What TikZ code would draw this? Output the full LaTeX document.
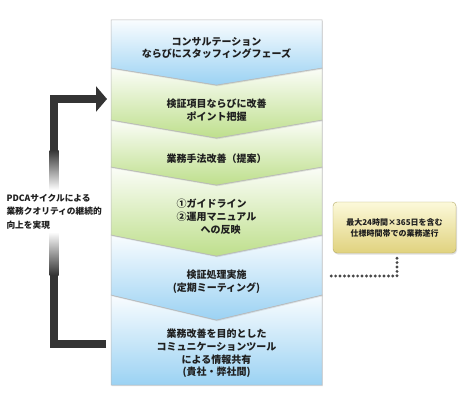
\documentclass[tikz,border=0pt]{standalone}
\usepackage{fontspec}
\setmainfont{Noto Sans CJK JP}
\usepackage{tikz}
\usetikzlibrary{arrows.meta, positioning, shadows}
\definecolor{stageblue}{RGB}{155,210,243}
\definecolor{stagegreen}{RGB}{190,223,140}
\definecolor{bracketgray}{RGB}{52,52,52}
\definecolor{notetop}{RGB}{252,249,218}
\definecolor{notebottom}{RGB}{224,210,126}

% chevron outline: top side, top tip, bottom side, bottom tip
\newcommand{\stagepath}[4]{(111,#1) -- (216.5,#2) -- (322,#1) -- (322,#3) -- (216.5,#4) -- (111,#3) -- cycle}

\begin{document}
\begin{tikzpicture}[
    x=1pt, y=-1pt,
    every node/.style={font=\bfseries\fontsize{10}{12.8}\selectfont, align=center, text=black!88},
    bluestage/.style={draw=gray!55, line width=0.5pt, top color=white!94!stageblue, bottom color=stageblue, drop shadow={opacity=0.22, shadow xshift=0.8pt, shadow yshift=-1.2pt}},
    greenstage/.style={draw=gray!55, line width=0.5pt, top color=white!94!stagegreen, bottom color=stagegreen, drop shadow={opacity=0.22, shadow xshift=0.8pt, shadow yshift=-1.2pt}},
    note/.style={rectangle, rounded corners=4pt, draw=notebottom!80!black, top color=notetop, bottom color=notebottom, minimum width=123pt, minimum height=51pt, drop shadow={opacity=0.25, shadow xshift=1pt, shadow yshift=-1.5pt}},
    cycleline/.style={line width=8pt, draw=bracketgray, -{Triangle[length=11pt, width=25pt]}},
    dotline/.style={line width=3.2pt, draw=black!72, dash pattern=on 0pt off 4.4pt, line cap=round}
]
\useasboundingbox (0,0) rectangle (460,404);
\fill[white] (0,0) rectangle (460,404);

% Stages (drawn bottom up)
\path[bluestage] \stagepath{295}{320}{385}{385};
\path[bluestage] \stagepath{235}{256}{295}{320};
\path[greenstage] \stagepath{167}{185}{235}{256};
\path[greenstage] \stagepath{120}{138}{167}{185};
\path[greenstage] \stagepath{68}{85}{120}{138};
\path[bluestage] \stagepath{20}{20}{68}{85};

% Stage texts
\node (consult) at (216.5,48) {コンサルテーション\\ならびにスタッフィングフェーズ};
\node (grasp) at (216.5,110) {検証項目ならびに改善\\ポイント把握};
\node (method) at (216.5,159) {業務手法改善（提案）};
\node[align=left] (manual) at (216.5,216.5) {①ガイドライン\\②運用マニュアル\\\hspace{2.4em}への反映};
\node (meeting) at (216.5,281.5) {検証処理実施\\(定期ミーティング)};
\node (share) at (216.5,353.5) {業務改善を目的とした\\コミュニケーションツール\\による情報共有\\(貴社・弊社間)};

% PDCA bracket
\coordinate (loopend) at (106,344);
\coordinate (loophead) at (107,99);
\draw[cycleline] (loopend) -- (54,344) -- (54,99) -- (loophead);
\shade[top color=bracketgray, bottom color=white] (49.5,150) rectangle (58.5,190);
\fill[white] (49.5,190) rectangle (58.5,232);
\shade[top color=white, bottom color=bracketgray] (49.5,232) rectangle (58.5,275);
\node[anchor=west, align=left, font=\bfseries\fontsize{8.7}{13.5}\selectfont] (pdca) at (3,211.5) {PDCAサイクルによる\\業務クオリティの継続的\\向上を実現};

% Service hours note
\node[note] (hours) at (394.5,227.5) {};
\node[font=\bfseries\fontsize{8}{11}\selectfont] (hourstext) at (hours.center) {最大24時間×365日を含む\\仕様時間帯での業務遂行};
\coordinate (dotend) at (328,276);
\draw[dotline] ([xshift=2.5pt, yshift=-5pt]hours.south) |- (dotend);

\end{tikzpicture}
\end{document}
